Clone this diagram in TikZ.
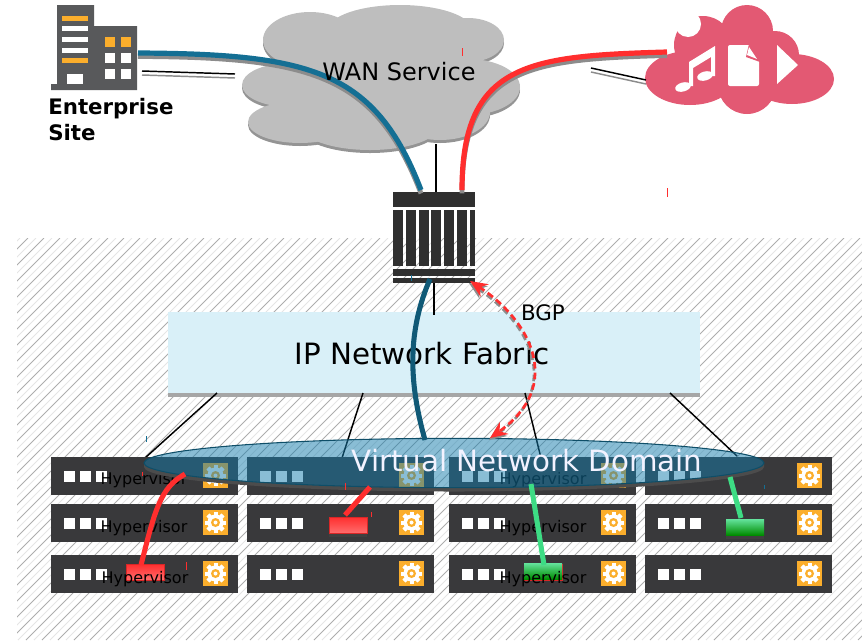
\documentclass[tikz,border=0pt]{standalone}
\usepackage{fontspec}
\setmainfont{DejaVu Sans}
\usetikzlibrary{shapes.geometric,arrows.meta}
\definecolor{routerdark}{HTML}{2F2F2F}
\definecolor{serverdark}{HTML}{39393B}
\definecolor{buildingdark}{HTML}{58595B}
\definecolor{accentorange}{HTML}{FBAE2C}
\definecolor{fabricblue}{HTML}{D9F0F8}
\definecolor{cloudgrey}{HTML}{BEBEBE}
\definecolor{cloudrose}{HTML}{E35973}
\definecolor{tenantblue}{HTML}{146F94}
\definecolor{tenantred}{HTML}{FF2E2E}
\definecolor{tenantgreen}{HTML}{3DDC84}
\definecolor{domainblue}{RGB}{20,124,172}
\newcommand{\wanlobes}{
  (310,40) ellipse (47 and 28) (400,30) ellipse (72 and 25) (468,40) ellipse (36 and 22)
  (380,80) ellipse (110 and 50) (290,85) ellipse (48 and 22) (468,87) ellipse (52 and 28)
  (300,122) ellipse (52 and 21) (370,125) ellipse (70 and 25) (440,112) ellipse (50 and 28)}
\tikzset{
  gearbox/.pic={
    \fill[accentorange] (-12.5,-12.5) rectangle (12.5,12.5);
    \foreach \ang in {0,45,...,315}
      \fill[white,rotate=\ang] (-2,-10.5) rectangle (2,10.5);
    \fill[white] (0,0) circle (8);
    \fill[accentorange] (0,0) circle (4.5);
    \fill[white] (0,0) circle (2);
  }
}
\begin{document}
\begin{tikzpicture}[x=0.75pt,y=-0.75pt,
    server node/.style={rectangle, fill=serverdark, inner sep=0pt, minimum width=140.25pt, minimum height=28.5pt},
    hv label/.style={font=\fontsize{12}{14}\selectfont, text=black, inner sep=0pt},
    vm red/.style={draw=tenantred!85!black, line width=0.5pt, top color=tenantred, bottom color=tenantred!70!white, inner sep=0pt, minimum width=28.5pt, minimum height=12pt},
    vm green/.style={top color=tenantgreen!80!white, bottom color=green!55!black, inner sep=0pt, minimum width=28.5pt, minimum height=12pt},
    vm shade/.style={fill=black!75, inner sep=0pt, minimum width=28.5pt, minimum height=12pt},
    link/.style={draw=black, line width=1.1pt},
    wire/.style={line width=3.9pt, preaction={draw=black!45, line width=3.6pt, transform canvas={yshift=-2.6pt}}},
    vm wire/.style={line width=3.8pt},
    bgp line/.style={{Stealth[length=13pt,width=11pt]}-{Stealth[length=13pt,width=11pt]}, dash pattern=on 5pt off 3pt, line width=2pt},
    tick/.style={line width=0.5pt}]
  \useasboundingbox (0,0) rectangle (862,640);

  \begin{scope}
    \clip (17,238) rectangle (862,640);
    \foreach \hx in {-390,-374,...,860}
      \draw[black!32, line width=0.6pt] (\hx,640) -- ({\hx+402},238);
    \foreach \hx in {-382,-366,...,860}
      \draw[black!10, line width=0.6pt] (\hx,640) -- ({\hx+402},238);
  \end{scope}

  % end points of the connectors
  \coordinate (siteout) at (138,53);
  \coordinate (siteback) at (142,71);
  \coordinate (wanleft) at (235,74);
  \coordinate (mediaback) at (591,68);
  \coordinate (medialeft) at (646,80);
  \coordinate (mediaout) at (667,52);
  \coordinate (wanbottom) at (436,144);
  \coordinate (routertop) at (436,192);
  \coordinate (routerblue) at (421,190);
  \coordinate (routerred) at (462,190);
  \coordinate (routerlow) at (430,279);
  \coordinate (routerbase) at (434,283);
  \coordinate (routerbgp) at (470,281);
  \coordinate (fabrictop) at (434,315);
  \coordinate (fabricA) at (217,393);
  \coordinate (fabricB) at (363,393);
  \coordinate (fabricC) at (525,393);
  \coordinate (fabricD) at (670,393);
  \coordinate (hostA) at (145,458);
  \coordinate (hostB) at (342,458);
  \coordinate (hostC) at (541,458);
  \coordinate (hostD) at (737,456);
  \coordinate (domainblue) at (425,440);
  \coordinate (domainbgp) at (490,438);
  \coordinate (domainA) at (185,474);
  \coordinate (domainB) at (370,487);
  \coordinate (domainC) at (531,484);
  \coordinate (domainD) at (730,477);
  \coordinate (vmAtop) at (345,515);
  \coordinate (vmBtop) at (141,565);
  \coordinate (vmCtop) at (741,518);
  \coordinate (vmDtop) at (544,565);

  % WAN cloud
  \fill[black!42, shift={(0,3)}] \wanlobes;
  \fill[cloudgrey] \wanlobes;

  % building
  \fill[buildingdark] (57,5) -- (94,5) -- (94,26) -- (137,26) -- (137,90) -- (51,90) -- (51,84) -- (57,84) -- cycle;
  \foreach \sy/\sc in {16/accentorange,26/white,37/white,48/white,58/accentorange}
    \fill[\sc] (62,\sy) rectangle (88,{\sy+5});
  \fill[white] (67,74) rectangle (83,84);
  \foreach \wx in {105,121}{
    \fill[accentorange] (\wx,37) rectangle ({\wx+10},47);
    \fill[white] (\wx,53) rectangle ({\wx+10},63);
    \fill[white] (\wx,69) rectangle ({\wx+10},79);
  }
  \node[font=\fontsize{16}{19.5}\selectfont\bfseries, align=left, anchor=north west, inner sep=0pt] (site) at (48,98) {Enterprise\\Site};

  % media cloud
  \fill[cloudrose] (690,78) ellipse (45 and 27) (792,79) ellipse (42 and 25) (747,31) ellipse (26 and 26)
    (747,85) ellipse (29 and 29) (703,45) ellipse (29 and 29) (775,55) ellipse (24 and 24) (745,60) ellipse (40 and 35);
  \fill[white] (688,24) circle (13);
  \fill[white] (689,62) -- (715,46) -- (715,76) -- (711,76) -- (711,57) -- (693,68) -- (693,86) -- (689,86) -- cycle;
  \fill[white, rotate around={15:(683,87)}] (683,87) ellipse (8 and 4.5);
  \fill[white, rotate around={15:(705,76)}] (705,76) ellipse (8 and 4.5);
  \fill[white, rounded corners=1.5pt] (728,45) rectangle (759,86);
  \fill[cloudrose] (749,44) -- (760,44) -- (760,62) -- (746,57) -- cycle;
  \fill[white] (749,47) -- (757,59) -- (747,55) -- cycle;
  \fill[white] (777,45) -- (798,65) -- (777,84) -- cycle;

  % thin lines with shadow
  \path[draw=black!45, line width=1.1pt, transform canvas={yshift=-3pt}] (siteback) edge (wanleft)
              (mediaback) edge (medialeft);
  \path[link] (siteback) edge (wanleft)
              (mediaback) edge (medialeft)
              (wanbottom) edge (routertop);

  % router
  \node[fill=routerdark, inner sep=0pt, minimum width=61.5pt, minimum height=11.25pt] (routerhead) at (434,199.5) {};
  \foreach \rx/\rw in {393/10,406/10,419/10,431/10,444/10,457/10,470/5}
    \fill[routerdark] (\rx,210) rectangle ({\rx+\rw},266);
  \fill[routerdark] (393,269) rectangle (475,276);
  \node[fill=routerdark, inner sep=0pt, minimum width=61.5pt, minimum height=4pt] (routerfoot) at (434,280.5) {};

  % wan wires
  \draw[wire, tenantblue] (siteout) .. controls (310,54) and (375,70) .. (routerblue);
  \draw[wire, tenantred] (mediaout) .. controls (530,56) and (462,62) .. (routerred);
  \node[font=\fontsize{18}{22}\selectfont, inner sep=0pt] (wan) at (399,72) {WAN Service};

  % fabric
  \fill[black!35] (168,393) rectangle (700,397);
  \node[fill=fabricblue, inner sep=0pt, minimum width=399pt, minimum height=60.75pt] (fabric) at (434,352.5) {};
  \path[link] (routerbase) edge (fabrictop)
              (fabricA) edge (hostA)
              (fabricB) edge (hostB)
              (fabricC) edge (hostC)
              (fabricD) edge (hostD);
  \node[font=\fontsize{22}{26}\selectfont, inner sep=0pt] (fabriclabel) at (422,354) {IP Network Fabric};
  \node[font=\fontsize{16}{19}\selectfont, inner sep=0pt] (bgp) at (543,313) {BGP};

  % servers
  \foreach \col/\cx in {A/144.5,B/340.5,C/542.5,D/738.5}
    \foreach \row/\cy in {1/476,2/523,3/574}{
      \node[server node] (server\col\row) at (\cx,\cy) {};
      \foreach \dx in {-76,-60,-44}
        \fill[white] ({\cx+\dx-5},{\cy-5}) rectangle ({\cx+\dx+6},{\cy+6});
      \pic at ({\cx+71},{\cy-0.5}) {gearbox};
    }

  % virtual machines
  \node[vm shade] (vmshadeA) at (348,529) {};
  \node[vm red] (vmA) at (348,525) {};
  \node[vm red] (vmB) at (145,572) {};
  \node[vm shade] (vmshadeC) at (745,531) {};
  \node[vm green] (vmC) at (745,527) {};
  \node[vm red] (vmDframe) at (543,572.5) {};
  \node[vm green] (vmD) at (543,571) {};

  \node[hv label] (hvA1) at (144,480) {Hypervisor};
  \node[hv label] (hvA2) at (144,528) {Hypervisor};
  \node[hv label] (hvA3) at (145,579) {Hypervisor};
  \node[hv label] (hvC1) at (543,480) {Hypervisor};
  \node[hv label] (hvC2) at (543,528) {Hypervisor};
  \node[hv label] (hvC3) at (543,579) {Hypervisor};

  % domain
  \fill[black!70] (144,463) arc[start angle=180, end angle=0, x radius=310, y radius=24.5] -- (764,467) arc[start angle=0, end angle=180, x radius=310, y radius=24.5] -- cycle;
  \node[ellipse, draw=tenantblue!70!black, line width=0.8pt, fill=domainblue, fill opacity=0.5, minimum width=465pt, minimum height=37pt, inner sep=0pt] (domain) at (454,463) {};
  \node[font=\fontsize{22}{26}\selectfont, text=white!95!blue, inner sep=0pt] (domainlabel) at (527,461) {Virtual Network Domain};

  % tenant wires
  \draw[tenantblue!80!black, vm wire] (routerlow) .. controls (408,330) and (408,380) .. (domainblue);
  \draw[tenantred, vm wire] (domainA) .. controls (160,488) and (155,510) .. (vmBtop);
  \draw[tenantred, vm wire] (domainB) -- (vmAtop);
  \draw[tenantgreen, vm wire] (domainC) -- (vmDtop);
  \draw[tenantgreen, vm wire] (domainD) -- (vmCtop);

  % bgp session
  \draw[bgp line, black!45, transform canvas={xshift=-0.8pt,yshift=-1.5pt}] (routerbgp) .. controls (530,320) and (565,385) .. (domainbgp);
  \draw[bgp line, tenantred] (routerbgp) .. controls (530,320) and (565,385) .. (domainbgp);

  % stray marks
  \foreach \mx/\mya/\myb in {462/48/56,667/188/197,142/472/476,345/483/490,371/512/517,186/562/570}
    \draw[tick, tenantred] (\mx,\mya) -- (\mx,\myb);
  \foreach \mx/\mya/\myb in {146/436/442,411/275/281,764/485/489}
    \draw[tick, tenantblue] (\mx,\mya) -- (\mx,\myb);
\end{tikzpicture}
\end{document}
